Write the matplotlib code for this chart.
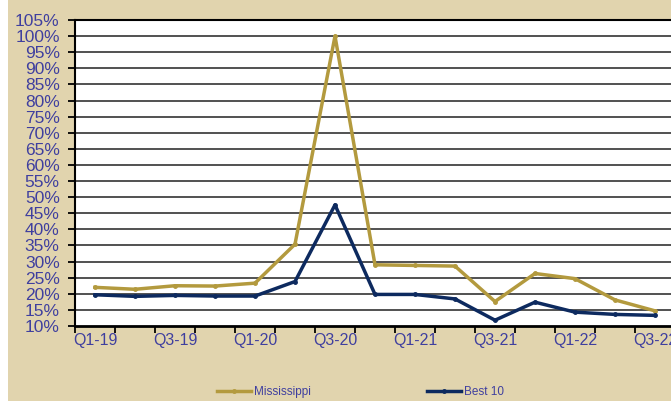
import matplotlib
matplotlib.use("Agg")
import matplotlib.pyplot as plt
from matplotlib.ticker import FixedLocator, FuncFormatter
from matplotlib.patches import Rectangle

quarters = ["Q1-19", "Q2-19", "Q3-19", "Q4-19", "Q1-20", "Q2-20", "Q3-20", "Q4-20",
            "Q1-21", "Q2-21", "Q3-21", "Q4-21", "Q1-22", "Q2-22", "Q3-22"]
mississippi = [22.0, 21.4, 22.5, 22.4, 23.3, 35.4, 100.0, 29.0, 28.8, 28.6, 17.6, 26.3, 24.7, 18.1, 14.7]
best10 = [19.7, 19.2, 19.5, 19.3, 19.3, 23.8, 47.6, 19.8, 19.8, 18.4, 11.8, 17.4, 14.3, 13.6, 13.3]
yticks = list(range(10, 106, 5))

gold = "#B39A3E"
navy = "#0D2A5F"
label_color = "#3F3F9F"
bg = "#E1D4AE"

plt.rcParams["font.family"] = ["Liberation Sans", "DejaVu Sans"]

fig = plt.figure(figsize=(6.71, 4.01), dpi=100, facecolor=bg)
fig.patches.append(Rectangle((0, 0), 8 / 671, 1, transform=fig.transFigure,
                             facecolor="white", edgecolor="none", zorder=0))

ax = fig.add_axes([75 / 671, 75 / 401, 600 / 671, 306 / 401])
ax.set_facecolor("white")

x = list(range(len(quarters)))
ax.plot(x, mississippi, color=gold, lw=2.5, marker="o", ms=2.5, label="Mississippi", zorder=3)
ax.plot(x, best10, color=navy, lw=2.5, marker="o", ms=2.5, label="Best 10", zorder=4)

ax.set_xlim(-0.5, len(quarters) - 0.5)
ax.set_ylim(10, 105)

ax.set_yticks(yticks)
ax.yaxis.set_major_formatter(FuncFormatter(lambda v, p: f"{int(v)}%"))
ax.tick_params(axis="y", direction="out", length=5, width=1.3, color="black",
               labelsize=12.5, labelcolor=label_color, pad=6)
for yv in yticks[1:]:
    ax.axhline(yv, color="#222222", lw=1.1, zorder=1)

ax.xaxis.set_major_locator(FixedLocator([i - 0.5 for i in range(len(quarters) + 1)]))
ax.xaxis.set_major_formatter(FuncFormatter(lambda v, p: ""))
ax.xaxis.set_minor_locator(FixedLocator(x[::2]))
ax.xaxis.set_minor_formatter(FuncFormatter(lambda v, p: quarters[int(round(v))]))
ax.tick_params(axis="x", which="major", direction="out", length=5, width=1.3, color="black")
ax.tick_params(axis="x", which="minor", length=0, labelsize=11.5, labelcolor=label_color, pad=5)

for s in ["top", "right"]:
    ax.spines[s].set_visible(False)
ax.spines["left"].set_linewidth(1.5)
ax.spines["bottom"].set_linewidth(2.0)
ax.spines["left"].set_color("black")
ax.spines["bottom"].set_color("black")
ax.axhline(105, color="black", lw=1.5, zorder=2, clip_on=False)

leg = fig.legend(loc="center left", bbox_to_anchor=(217 / 671, 9 / 401), ncol=2,
                 frameon=False, fontsize=8.5, handlelength=2.9, handletextpad=0.25,
                 columnspacing=9.8, borderpad=0, borderaxespad=0)
for t in leg.get_texts():
    t.set_color(label_color)

fig.savefig("out.png", dpi=100, facecolor=bg)
